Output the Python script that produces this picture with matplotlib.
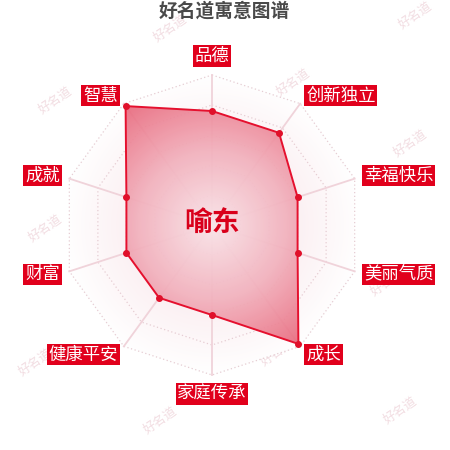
import numpy as np
import matplotlib
matplotlib.use("Agg")
import matplotlib.pyplot as plt
from matplotlib.colors import LinearSegmentedColormap
from matplotlib.patches import Polygon

plt.rcParams['font.family'] = ['Noto Sans CJK SC', 'DejaVu Sans']

title = "好名道寓意图谱"
name = "喻东"
categories = ["品德", "创新独立", "幸福快乐", "美丽气质", "成长",
              "家庭传承", "健康平安", "财富", "成就", "智慧"]
values = [76, 76, 60, 60, 98, 60, 60, 60, 60, 98]
max_value = 100
rings = [0.2, 0.4, 0.6, 0.8, 1.0]

# watermark spots (pixels)
marks_xy = [(170, 28), (415, 15), (55, 100), (293, 82), (410, 143), (168, 150),
            (45, 228), (300, 210), (387, 282), (150, 295), (35, 362), (277, 352),
            (160, 420), (400, 410)]

cx, cy, R = 212, 225, 150
n = len(categories)
ang = np.arange(n) * 2 * np.pi / n


def to_xy(r, a):
    return cx + r * np.sin(a), cy - r * np.cos(a)


fig = plt.figure(figsize=(4.5, 4.5), dpi=100)
ax = fig.add_axes([0, 0, 1, 1])
ax.set_xlim(0, 450)
ax.set_ylim(450, 0)
ax.axis('off')

for (mx, my) in marks_xy:
    ax.text(mx, my, "好名道", fontsize=9, color='#f2dde2', rotation=35,
            ha='center', va='center', style='italic', zorder=1)

# faint background gradient inside the web
yy, xx = np.mgrid[0:450, 0:450]
dist = np.hypot(xx - cx, yy - cy) / R
bg_cmap = LinearSegmentedColormap.from_list("bg", ["#f8e0e5", "#fbeef1", "#ffffff"])
outer = Polygon(np.column_stack(to_xy(R, ang)), closed=True, transform=ax.transData)
im = ax.imshow(dist, cmap=bg_cmap, vmin=0, vmax=1, extent=(0, 450, 450, 0),
               zorder=2, interpolation='bilinear')
im.set_clip_path(outer)

# grid
for f in rings:
    px, py = to_xy(R * f, ang)
    ax.plot(np.append(px, px[0]), np.append(py, py[0]), color='#e6cdd3',
            lw=0.9, ls=(0, (1, 2)), zorder=3)
for a in ang:
    px, py = to_xy(R, a)
    ax.plot([cx, px], [cy, py], color='#f0d3da', lw=1.3, zorder=3)

# series
r_vals = np.array(values) / max_value * R
sx, sy = to_xy(r_vals, ang)
poly = Polygon(np.column_stack([sx, sy]), closed=True, transform=ax.transData)
fg_cmap = LinearSegmentedColormap.from_list("fg", ["#f9e6ea", "#f2b0bc", "#e8667a"])
im2 = ax.imshow(dist, cmap=fg_cmap, vmin=0, vmax=1, extent=(0, 450, 450, 0),
                zorder=4, alpha=0.92, interpolation='bilinear')
im2.set_clip_path(poly)
ax.plot(np.append(sx, sx[0]), np.append(sy, sy[0]), color='#e5102e', lw=1.4, zorder=5)
ax.plot(sx, sy, 'o', color='#e0102a', ms=4, zorder=6)

# axis names
for lab, a in zip(categories, ang):
    lx, ly = to_xy(R + 10, a)
    s = np.sin(a)
    c = np.cos(a)
    if abs(s) < 1e-6:
        ha = 'center'
        va = 'bottom' if c > 0 else 'top'
    else:
        ha = 'left' if s > 0 else 'right'
        va = 'center'
    ax.text(lx, ly, lab, fontsize=12.5, color='white', ha=ha, va=va, zorder=7,
            bbox=dict(boxstyle='square,pad=0.1', fc='#e1001c', ec='none'))

ax.text(cx, cy - 2, name, fontsize=20, color='#d9001b', fontweight='bold',
        ha='center', va='center', zorder=8)
ax.text(224, 11, title, fontsize=13.5, color='#4a4a4a', fontweight='bold',
        ha='center', va='center', zorder=8)

fig.savefig("out.png", dpi=100)
